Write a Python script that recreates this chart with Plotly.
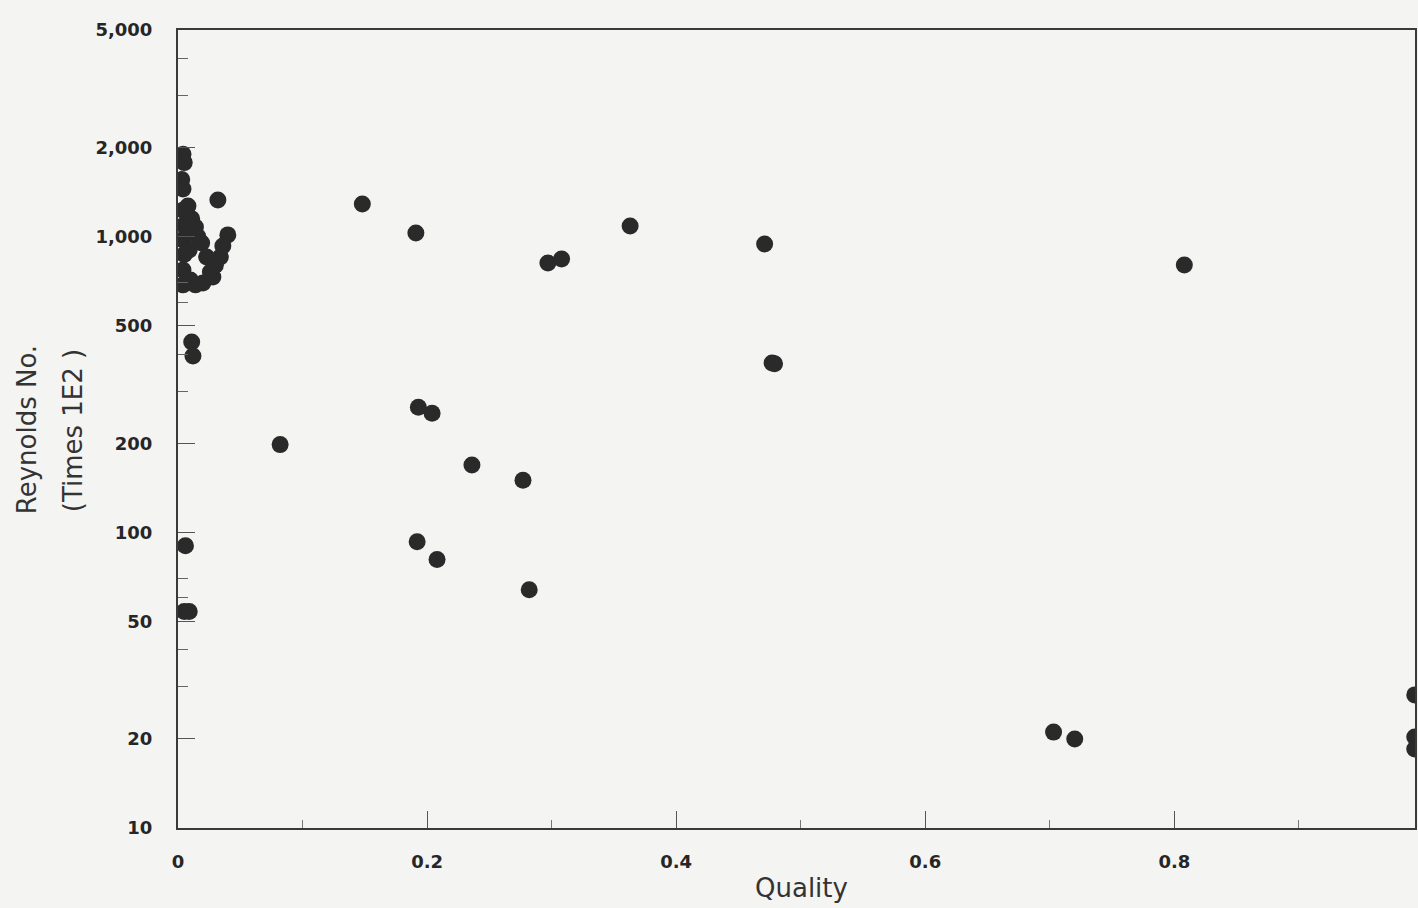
import plotly.graph_objects as go

# ---- data (Quality vs Reynolds No. x 1E2) ----
quality = [
    0.004, 0.005, 0.003, 0.004, 0.032,
    0.008, 0.014, 0.019, 0.023, 0.020, 0.040, 0.034, 0.028,
    0.004, 0.005, 0.004, 0.005, 0.004, 0.004,
    0.009, 0.010, 0.014, 0.030, 0.036, 0.026, 0.016, 0.011, 0.007,
    0.011, 0.012,
    0.006, 0.005, 0.009,
    0.148, 0.191, 0.363, 0.471, 0.297, 0.308, 0.808,
    0.477, 0.479,
    0.082, 0.193, 0.204, 0.236, 0.277,
    0.192, 0.208, 0.282,
    0.703, 0.720,
    0.993, 0.993, 0.993,
]
reynolds = [
    1900, 1780, 1560, 1450, 1330,
    1270, 1078, 952, 853, 697, 1014, 853, 731,
    1230, 1096, 975, 870, 772, 687,
    902, 714, 687, 800, 930, 760, 1000, 1150, 1040,
    440, 395,
    90, 54, 54,
    1290, 1029, 1086, 945, 815, 841, 802,
    374, 372,
    198, 265, 253, 169, 150,
    93, 81, 64,
    21.1, 20.0,
    28.2, 20.3, 18.5,
]

x_tickvals = [0, 0.2, 0.4, 0.6, 0.8]
x_ticktext = ["0", "0.2", "0.4", "0.6", "0.8"]
x_minor = [0.1, 0.3, 0.5, 0.7, 0.9]

y_tickvals = [10, 20, 50, 100, 200, 500, 1000, 2000, 5000]
y_ticktext = ["10", "20", "50", "100", "200", "500", "1,000", "2,000", "5,000"]
y_minor = [30, 40, 60, 70, 300, 400, 600, 700, 3000, 4000]

ink = "#2a2a2a"
bg = "#f4f4f2"

fig = go.Figure()
fig.add_trace(go.Scatter(
    x=quality, y=reynolds, mode="markers",
    marker=dict(size=17, color=ink, line=dict(width=0)),
    cliponaxis=True, showlegend=False,
))

tickfont = dict(family="DejaVu Sans", size=18, color="#262626", weight="bold")

fig.update_layout(
    width=1418, height=908,
    margin=dict(l=178, r=1, t=30, b=80),
    paper_bgcolor=bg, plot_bgcolor=bg,
    xaxis=dict(
        range=[0, 0.9932], showgrid=False, zeroline=False,
        showline=True, linecolor="#3a3a3a", linewidth=2, mirror=True,
        tickmode="array", tickvals=x_tickvals, ticktext=x_ticktext,
        ticks="inside", ticklen=17, tickwidth=1, tickcolor="#555",
        minor=dict(tickmode="array", tickvals=x_minor, ticks="inside",
                   ticklen=8, tickwidth=1, tickcolor="#777", showgrid=False),
        tickfont=tickfont, ticklabelstandoff=16,
    ),
    yaxis=dict(
        type="log", range=[1, 3.69897], showgrid=False, zeroline=False,
        showline=True, linecolor="#3a3a3a", linewidth=2, mirror=True,
        tickmode="array", tickvals=y_tickvals, ticktext=y_ticktext,
        ticks="inside", ticklen=17, tickwidth=1, tickcolor="#555",
        minor=dict(tickmode="array", tickvals=y_minor, ticks="inside",
                   ticklen=10, tickwidth=1, tickcolor="#666", showgrid=False),
        tickfont=tickfont, ticklabelstandoff=20,
    ),
    annotations=[
        dict(text="Quality", xref="paper", yref="paper", x=0.504, y=-0.075,
             xanchor="center", yanchor="middle", showarrow=False,
             font=dict(family="DejaVu Sans", size=26, color="#333")),
        dict(text="Reynolds No.", xref="paper", yref="paper", x=-0.1219, y=0.4987,
             xanchor="center", yanchor="middle", textangle=-90, showarrow=False,
             font=dict(family="DejaVu Sans", size=26, color="#333")),
        dict(text="(Times 1E2 )", xref="paper", yref="paper", x=-0.0847, y=0.4987,
             xanchor="center", yanchor="middle", textangle=-90, showarrow=False,
             font=dict(family="DejaVu Sans", size=26, color="#333")),
    ],
)

fig.write_html(
    "out.html",
    config={"displayModeBar": False},
    post_script="document.body.style.margin='0';document.body.style.overflow='hidden';document.body.style.background='" + bg + "';",
)
